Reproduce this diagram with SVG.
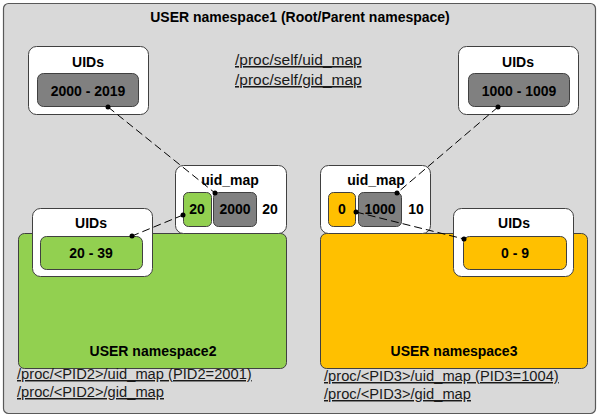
<svg xmlns="http://www.w3.org/2000/svg" width="598" height="417" viewBox="0 0 598 417">
<style>
.t{font-family:"Liberation Sans",Arial,sans-serif;font-size:14px;font-weight:bold;fill:#000;text-anchor:middle}
.l{font-family:"Liberation Sans",Arial,sans-serif;font-size:14.7px;fill:#1a1a1a;text-decoration:underline}
.box{fill:#fff;stroke:#404040;stroke-width:1}
.gray{fill:#808080;stroke:#404040;stroke-width:1}
.green{fill:#92d050;stroke:#404040;stroke-width:1}
.orange{fill:#ffc000;stroke:#404040;stroke-width:1}
.dash{fill:none;stroke:#000;stroke-width:1;stroke-dasharray:8 4}
.dot{fill:#000}
</style>
<g id="ns1">
<rect x="3.5" y="3.5" width="592" height="410" rx="5" fill="#d9d9d9" stroke="#595959" stroke-width="1.2"/>
<text class="t" x="300" y="22">USER namespace1 (Root/Parent namespace)</text>
<text class="l" x="235" y="65" style="font-size:15.5px">/proc/self/uid_map</text>
<text class="l" x="235" y="85" style="font-size:15.5px">/proc/self/gid_map</text>
</g>
<g id="uids-root-left">
<rect class="box" x="28.5" y="46.5" width="120" height="68" rx="8"/>
<text class="t" x="88" y="67">UIDs</text>
<rect class="gray" x="37.5" y="73.5" width="101" height="33" rx="6"/>
<text class="t" x="88" y="96">2000 - 2019</text>
</g>
<g id="uids-root-right">
<rect class="box" x="458.5" y="46.5" width="120" height="68" rx="8"/>
<text class="t" x="518" y="67">UIDs</text>
<rect class="gray" x="468.5" y="73.5" width="101" height="33" rx="6"/>
<text class="t" x="519" y="96">1000 - 1009</text>
</g>
<g id="ns2">
<rect class="green" x="18.5" y="233.5" width="268" height="135" rx="6"/>
<text class="t" x="153" y="356">USER namespace2</text>
<text class="l" x="17" y="379">/proc/&lt;PID2&gt;/uid_map (PID2=2001)</text>
<text class="l" x="17" y="397">/proc/&lt;PID2&gt;/gid_map</text>
</g>
<g id="ns3">
<rect class="orange" x="320.5" y="233.5" width="267" height="135" rx="6"/>
<text class="t" x="454" y="356">USER namespace3</text>
<text class="l" x="324" y="381">/proc/&lt;PID3&gt;/uid_map (PID3=1004)</text>
<text class="l" x="324" y="399">/proc/&lt;PID3&gt;/gid_map</text>
</g>
<g id="uidmap2">
<rect class="box" x="175.5" y="165.5" width="111" height="68" rx="8"/>
<text class="t" x="230" y="185">uid_map</text>
<rect class="green" x="183.5" y="192.5" width="28" height="34" rx="5"/>
<text class="t" x="197" y="214">20</text>
<rect class="gray" x="213.5" y="192.5" width="43" height="34" rx="5"/>
<text class="t" x="235" y="214">2000</text>
<text class="t" x="270" y="214">20</text>
</g>
<g id="uidmap3">
<rect class="box" x="320.5" y="165.5" width="110" height="68" rx="8"/>
<text class="t" x="376" y="185">uid_map</text>
<rect class="orange" x="328.5" y="192.5" width="27" height="34" rx="5"/>
<text class="t" x="342" y="214">0</text>
<rect class="gray" x="358.5" y="192.5" width="43" height="34" rx="5"/>
<text class="t" x="380" y="214">1000</text>
<text class="t" x="416" y="214">10</text>
</g>
<g id="uids2">
<rect class="box" x="32.5" y="208.5" width="120" height="68" rx="8"/>
<text class="t" x="91" y="228">UIDs</text>
<rect class="green" x="40.5" y="236.5" width="102" height="33" rx="6"/>
<text class="t" x="91" y="258">20 - 39</text>
</g>
<g id="uids3">
<rect class="box" x="453.5" y="208.5" width="120" height="68" rx="8"/>
<text class="t" x="514" y="228">UIDs</text>
<rect class="orange" x="463.5" y="236.5" width="103" height="33" rx="6"/>
<text class="t" x="515" y="258">0 - 9</text>
</g>
<g id="connectors">
<path class="dash" d="M108 107 L215 193"/>
<path class="dash" d="M183 215 L132 236"/>
<path class="dash" d="M498 107 L397 193"/>
<path class="dash" d="M356 212 L464 239"/>
<circle class="dot" cx="108" cy="107" r="2.5"/>
<circle class="dot" cx="215" cy="193" r="2.5"/>
<circle class="dot" cx="183" cy="215" r="2.5"/>
<circle class="dot" cx="132" cy="236" r="2.5"/>
<circle class="dot" cx="498" cy="107" r="2.5"/>
<circle class="dot" cx="397" cy="193" r="2.5"/>
<circle class="dot" cx="356" cy="212" r="2.5"/>
<circle class="dot" cx="464" cy="239" r="2.5"/>
</g>
</svg>
